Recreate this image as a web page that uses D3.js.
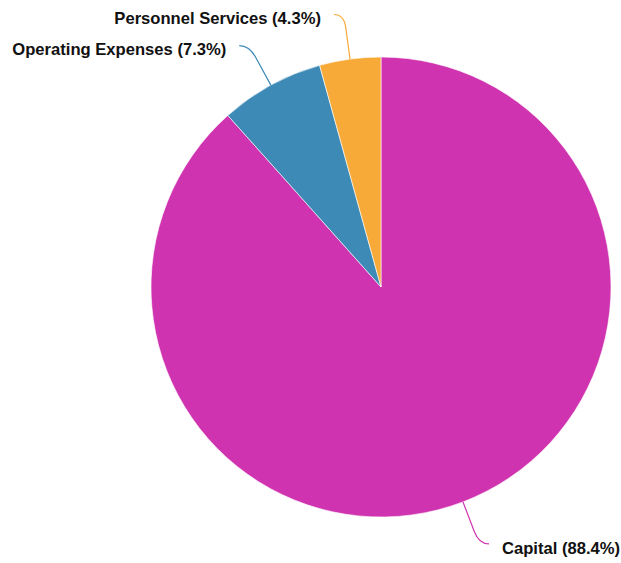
<!DOCTYPE html>
<html>
<head>
<meta charset="utf-8">
<script src="https://cdn.jsdelivr.net/npm/d3@7"></script>
<style>
  body { margin: 0; background: #fff; }
  text { font-family: "Liberation Sans", Arial, sans-serif; font-weight: bold; font-size: 16.6px; fill: #111; }
</style>
</head>
<body>
<script>
// budget shares
const categories = ['Capital', 'Operating Expenses', 'Personnel Services'];
const shares = [88.4, 7.3, 4.3];
const colors = ['#d033b0', '#3d8ab6', '#f7aa38'];

const data = categories.map((name, i) => ({ name, value: shares[i], color: colors[i] }));

const width = 621,
    height = 563,
    radius = 230;

const svg = d3.select('body').append('svg')
    .attr('width', width)
    .attr('height', height)
    .append('g')
    .attr('transform', 'translate(381, 287)');

const pie = d3.pie()
    .value(d => d.value)
    .sort(null);

const arc = d3.arc()
    .innerRadius(0)
    .outerRadius(radius);

const arcs = pie(data);

svg.append('g').selectAll('path')
    .data(arcs)
    .enter().append('path')
    .attr('d', arc)
    .attr('fill', d => d.data.color)
    .attr('stroke', '#fff')
    .attr('stroke-width', 0.6);

function midAngle(d) {
    return d.startAngle + (d.endAngle - d.startAngle) / 2;
}

function polar(a, r) {
    return [r * Math.sin(a), -r * Math.cos(a)];
}

/* ------- leader lines -------*/
svg.append('g').selectAll('path')
    .data(arcs)
    .enter().append('path')
    .attr('fill', 'none')
    .attr('stroke', d => d.data.color)
    .attr('stroke-width', 1.2)
    .attr('d', d => {
        const a = midAngle(d);
        const side = Math.sin(a) >= 0 ? 1 : -1;
        const p0 = polar(a, radius);
        const p1 = polar(a, radius + 32);
        const p2 = polar(a, radius + 45);
        const p3 = [p2[0] + side * 10, p2[1]];
        return `M${p0}L${p1}Q${p2} ${p3}`;
    });

/* ------- labels -------*/
svg.append('g').selectAll('text')
    .data(arcs)
    .enter().append('text')
    .attr('dy', '0.35em')
    .attr('text-anchor', d => Math.sin(midAngle(d)) >= 0 ? 'start' : 'end')
    .attr('transform', d => {
        const a = midAngle(d);
        const side = Math.sin(a) >= 0 ? 1 : -1;
        const p2 = polar(a, radius + 45);
        return `translate(${p2[0] + side * 23}, ${p2[1] + 4})`;
    })
    .text(d => `${d.data.name} (${d.data.value}%)`);
</script>
</body>
</html>
